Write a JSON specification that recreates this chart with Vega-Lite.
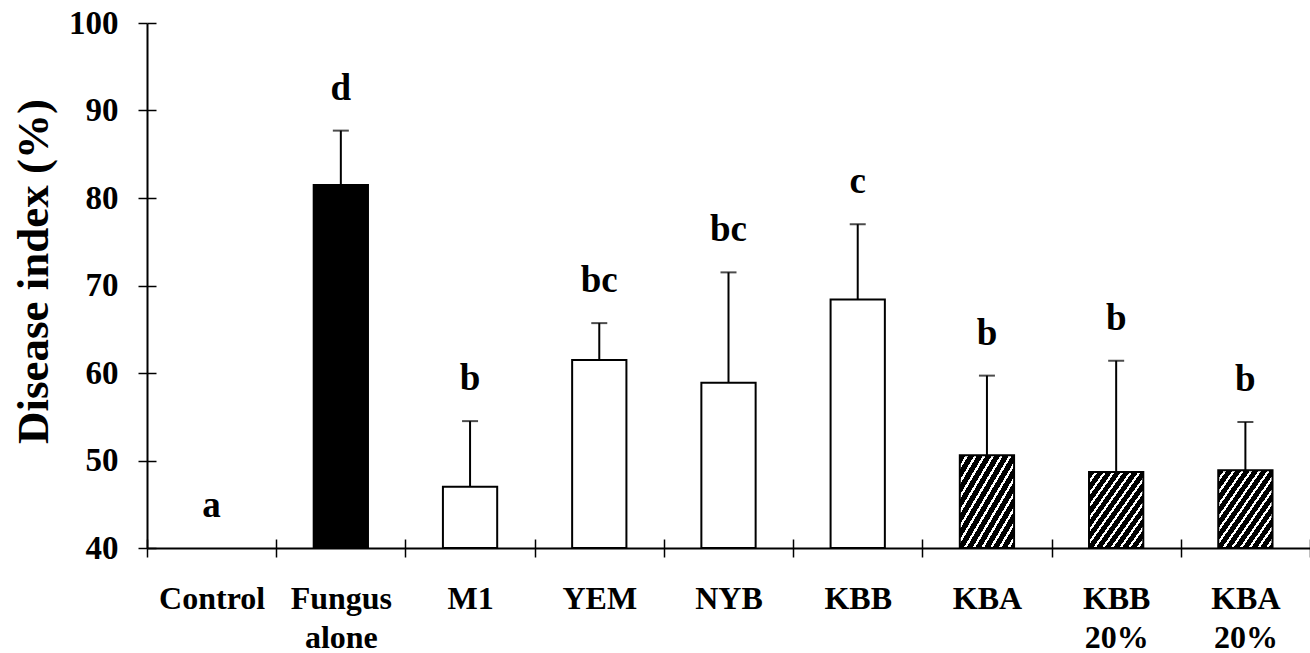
{
  "$schema": "https://vega.github.io/schema/vega-lite/v6.json",
  "autosize": {"type": "none"},
  "width": 1163,
  "height": 525,
  "padding": {"left": 147, "top": 23, "right": 0, "bottom": 105},
  "background": "white",
  "config": {
    "view": {"stroke": null},
    "font": "Liberation Serif"
  },
  "data": {
    "values": [
      {"treatment": "Control", "mean": 0, "upper": 0, "type": "none", "letter": "a"},
      {"treatment": "Fungus alone", "mean": 81.5, "upper": 87.7, "type": "solid", "letter": "d"},
      {"treatment": "M1", "mean": 47.0, "upper": 54.5, "type": "open", "letter": "b"},
      {"treatment": "YEM", "mean": 61.5, "upper": 65.7, "type": "open", "letter": "bc"},
      {"treatment": "NYB", "mean": 58.9, "upper": 71.5, "type": "open", "letter": "bc"},
      {"treatment": "KBB", "mean": 68.4, "upper": 77.0, "type": "open", "letter": "c"},
      {"treatment": "KBA", "mean": 50.6, "upper": 59.7, "type": "hatch", "letter": "b"},
      {"treatment": "KBB 20%", "mean": 48.7, "upper": 61.4, "type": "hatch", "letter": "b"},
      {"treatment": "KBA 20%", "mean": 48.9, "upper": 54.4, "type": "hatch", "letter": "b"}
    ]
  },
  "encoding": {
    "x": {
      "field": "treatment",
      "type": "nominal",
      "sort": null,
      "scale": {
        "domain": ["Control", "Fungus alone", "M1", "YEM", "NYB", "KBB", "KBA", "KBB 20%", "KBA 20%"],
        "paddingInner": 0,
        "paddingOuter": 0
      },
      "axis": {
        "title": null,
        "labelAngle": 0,
        "labelExpr": "split(datum.label, ' ')",
        "labelFont": "Liberation Serif",
        "labelFontWeight": "bold",
        "labelFontSize": 32,
        "labelColor": "black",
        "labelBaseline": "alphabetic",
        "labelLineHeight": 39,
        "labelPadding": 51,
        "tickBand": "extent",
        "tickSize": 9,
        "tickWidth": 1.5,
        "tickColor": "black",
        "domainColor": "black",
        "domainWidth": 2,
        "grid": true,
        "gridColor": "black",
        "gridWidth": 1.5,
        "gridDash": [9, 516],
        "gridDashOffset": 9
      }
    },
    "y": {
      "type": "quantitative",
      "scale": {"domain": [40, 100], "zero": false, "nice": false, "clamp": true},
      "axis": {
        "title": "Disease index (%)",
        "titleFont": "Liberation Serif",
        "titleFontWeight": "bold",
        "titleFontSize": 45,
        "titleColor": "black",
        "titleAngle": -90,
        "titleAlign": "center",
        "titleBaseline": "alphabetic",
        "titleX": -100,
        "titleY": 248,
        "values": [40, 50, 60, 70, 80, 90, 100],
        "labelFont": "Liberation Serif",
        "labelFontWeight": "bold",
        "labelFontSize": 33,
        "labelColor": "black",
        "labelPadding": 20,
        "tickSize": 9,
        "tickWidth": 1.5,
        "tickColor": "black",
        "domainColor": "black",
        "domainWidth": 2,
        "grid": true,
        "gridColor": "black",
        "gridWidth": 1.5,
        "gridDash": [9, 3000]
      }
    }
  },
  "layer": [
    {
      "transform": [{"filter": "datum.mean > 0 && datum.type != 'hatch'"}],
      "mark": {"type": "bar", "width": {"band": 0.42}, "stroke": "black", "strokeWidth": 2},
      "encoding": {
        "y": {"field": "mean", "type": "quantitative"},
        "y2": {"datum": 40},
        "fill": {
          "field": "type",
          "type": "nominal",
          "scale": {"domain": ["solid", "open"], "range": ["black", "white"]},
          "legend": null
        }
      }
    },
    {
      "transform": [{"filter": "datum.type == 'hatch'"}],
      "mark": {
        "type": "bar",
        "width": {"band": 0.42},
        "stroke": "black",
        "strokeWidth": 2,
        "fill": {
          "gradient": "linear",
          "x1": 0, "y1": 0, "x2": 1, "y2": 1,
          "stops": [
            {"offset": 0.0, "color": "black"}, {"offset": 0.055, "color": "black"}, {"offset": 0.055, "color": "white"}, {"offset": 0.08, "color": "white"},
            {"offset": 0.08, "color": "black"}, {"offset": 0.135, "color": "black"}, {"offset": 0.135, "color": "white"}, {"offset": 0.16, "color": "white"},
            {"offset": 0.16, "color": "black"}, {"offset": 0.215, "color": "black"}, {"offset": 0.215, "color": "white"}, {"offset": 0.24, "color": "white"},
            {"offset": 0.24, "color": "black"}, {"offset": 0.295, "color": "black"}, {"offset": 0.295, "color": "white"}, {"offset": 0.32, "color": "white"},
            {"offset": 0.32, "color": "black"}, {"offset": 0.375, "color": "black"}, {"offset": 0.375, "color": "white"}, {"offset": 0.40, "color": "white"},
            {"offset": 0.40, "color": "black"}, {"offset": 0.455, "color": "black"}, {"offset": 0.455, "color": "white"}, {"offset": 0.48, "color": "white"},
            {"offset": 0.48, "color": "black"}, {"offset": 0.535, "color": "black"}, {"offset": 0.535, "color": "white"}, {"offset": 0.56, "color": "white"},
            {"offset": 0.56, "color": "black"}, {"offset": 0.615, "color": "black"}, {"offset": 0.615, "color": "white"}, {"offset": 0.64, "color": "white"},
            {"offset": 0.64, "color": "black"}, {"offset": 0.695, "color": "black"}, {"offset": 0.695, "color": "white"}, {"offset": 0.72, "color": "white"},
            {"offset": 0.72, "color": "black"}, {"offset": 0.775, "color": "black"}, {"offset": 0.775, "color": "white"}, {"offset": 0.80, "color": "white"},
            {"offset": 0.80, "color": "black"}, {"offset": 0.855, "color": "black"}, {"offset": 0.855, "color": "white"}, {"offset": 0.88, "color": "white"},
            {"offset": 0.88, "color": "black"}, {"offset": 0.935, "color": "black"}, {"offset": 0.935, "color": "white"}, {"offset": 0.96, "color": "white"},
            {"offset": 0.96, "color": "black"}, {"offset": 1.0, "color": "black"}
          ]
        }
      },
      "encoding": {
        "y": {"field": "mean", "type": "quantitative"},
        "y2": {"datum": 40}
      }
    },
    {
      "transform": [{"filter": "datum.mean > 0"}],
      "mark": {"type": "rule", "color": "black", "strokeWidth": 2},
      "encoding": {
        "y": {"field": "mean", "type": "quantitative"},
        "y2": {"field": "upper"}
      }
    },
    {
      "transform": [{"filter": "datum.mean > 0"}],
      "mark": {"type": "tick", "color": "black", "size": 16, "thickness": 2},
      "encoding": {
        "y": {"field": "upper", "type": "quantitative"}
      }
    },
    {
      "mark": {"type": "text", "font": "Liberation Serif", "fontWeight": "bold", "fontSize": 37, "color": "black", "baseline": "alphabetic", "dy": -31},
      "encoding": {
        "y": {"field": "upper", "type": "quantitative"},
        "text": {"field": "letter"}
      }
    }
  ]
}
